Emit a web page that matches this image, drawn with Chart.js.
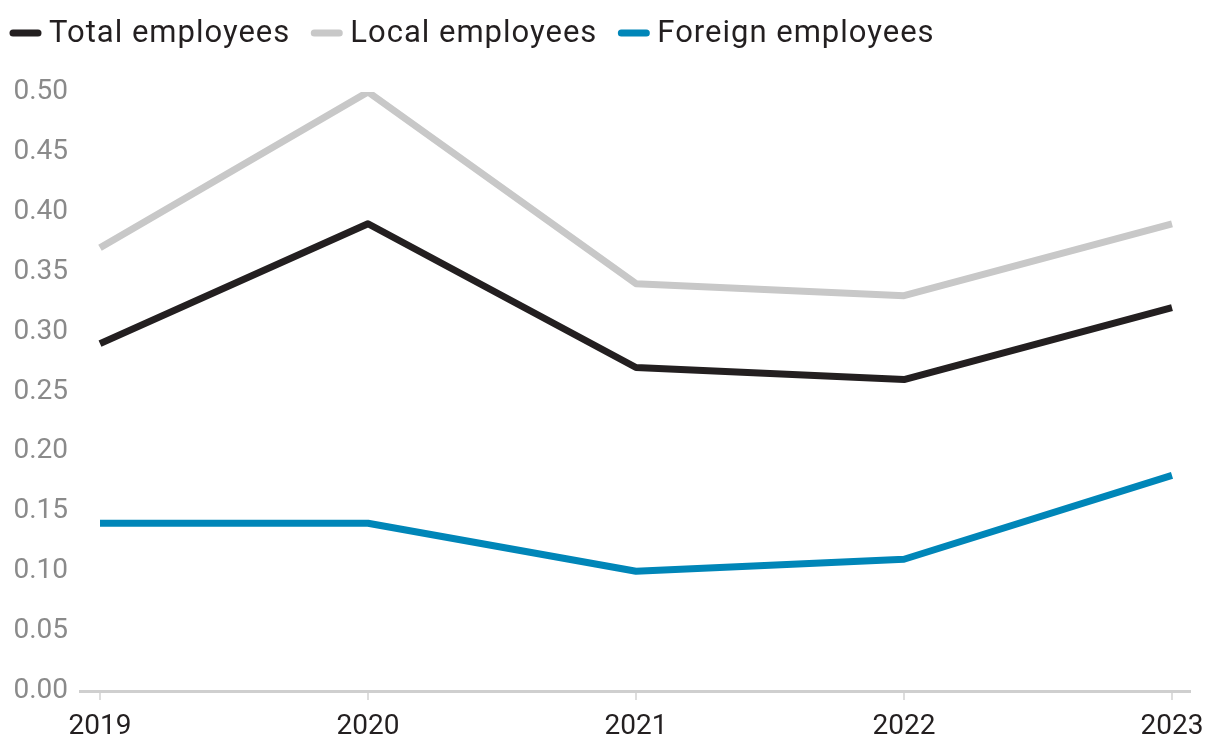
<!DOCTYPE html>
<html><head><meta charset="utf-8">
<script src="https://cdn.jsdelivr.net/npm/chart.js@4"></script>
<style>html,body{margin:0;padding:0;background:#fff}#wrap{width:1220px;height:756px}</style>
</head><body><div id="wrap"><canvas id="c" width="1220" height="756"></canvas></div>
<script>
const years = [2019, 2020, 2021, 2022, 2023];
const totalEmployees = [0.29, 0.39, 0.27, 0.26, 0.32];
const localEmployees = [0.37, 0.50, 0.34, 0.33, 0.39];
const foreignEmployees = [0.14, 0.14, 0.10, 0.11, 0.18];
const seriesNames = ['Total employees', 'Local employees', 'Foreign employees'];
const colors = ['#231f20', '#c8c8c8', '#0086b8'];
const FONT = 'Roboto, "Noto Sans", sans-serif';

const pts = arr => years.map((y,i)=>({x:y, y:arr[i]}));
const ds = [totalEmployees, localEmployees, foreignEmployees].map((d,i)=>({
  label: seriesNames[i], data: pts(d), borderColor: colors[i], backgroundColor: colors[i],
  borderWidth: 7, pointRadius: 0, tension: 0, borderJoinStyle: 'round'
}));

const legendPlugin = {
  id: 'topLegend',
  afterDraw(chart) {
    const g = chart.ctx; g.save();
    g.font = '31px ' + FONT; g.textBaseline = 'middle'; g.textAlign = 'left';
    try { g.letterSpacing = '1px'; } catch(e) {}
    let x = 13; const y = 33;
    chart.data.datasets.forEach(d => {
      g.strokeStyle = d.borderColor; g.lineWidth = 7; g.lineCap = 'round';
      g.beginPath(); g.moveTo(x, y); g.lineTo(x + 25, y); g.stroke();
      g.fillStyle = '#231f20';
      g.fillText(d.label, x + 36, y + 1);
      x += 36 + g.measureText(d.label).width + 24;
    });
    g.restore();
  }
};

new Chart(document.getElementById('c'), {
  type: 'line',
  data: { datasets: ds },
  plugins: [legendPlugin],
  options: {
    responsive: false, animation: false,
    layout: { padding: { left: 0, right: 30, top: 92, bottom: 0 } },
    plugins: { tooltip: { enabled: false }, legend: { display: false } },
    scales: {
      x: { type: 'linear', min: 2019 - 20/268, max: 2023 + 18/268,
        afterBuildTicks: s => { s.ticks = years.map(v=>({value:v})); },
        afterFit: s => { s.height = 65; },
        ticks: { callback: v => String(v), color: '#231f20', font: { family: FONT, size: 28 }, padding: 10, maxRotation: 0, autoSkip: false },
        grid: { drawOnChartArea: false, drawTicks: true, tickLength: 9, color: '#dddddd', lineWidth: 2 },
        border: { display: true, color: '#cfcfcf', width: 3 }
      },
      y: { min: 0, max: 0.5,
        afterFit: s => { s.width = 80; },
        ticks: { stepSize: 0.05, callback: v => v.toFixed(2), color: '#8a8a8a', font: { family: FONT, size: 28 }, padding: 12 },
        grid: { display: false, drawTicks: false }, border: { display: false }
      }
    }
  }
});
</script></body></html>
